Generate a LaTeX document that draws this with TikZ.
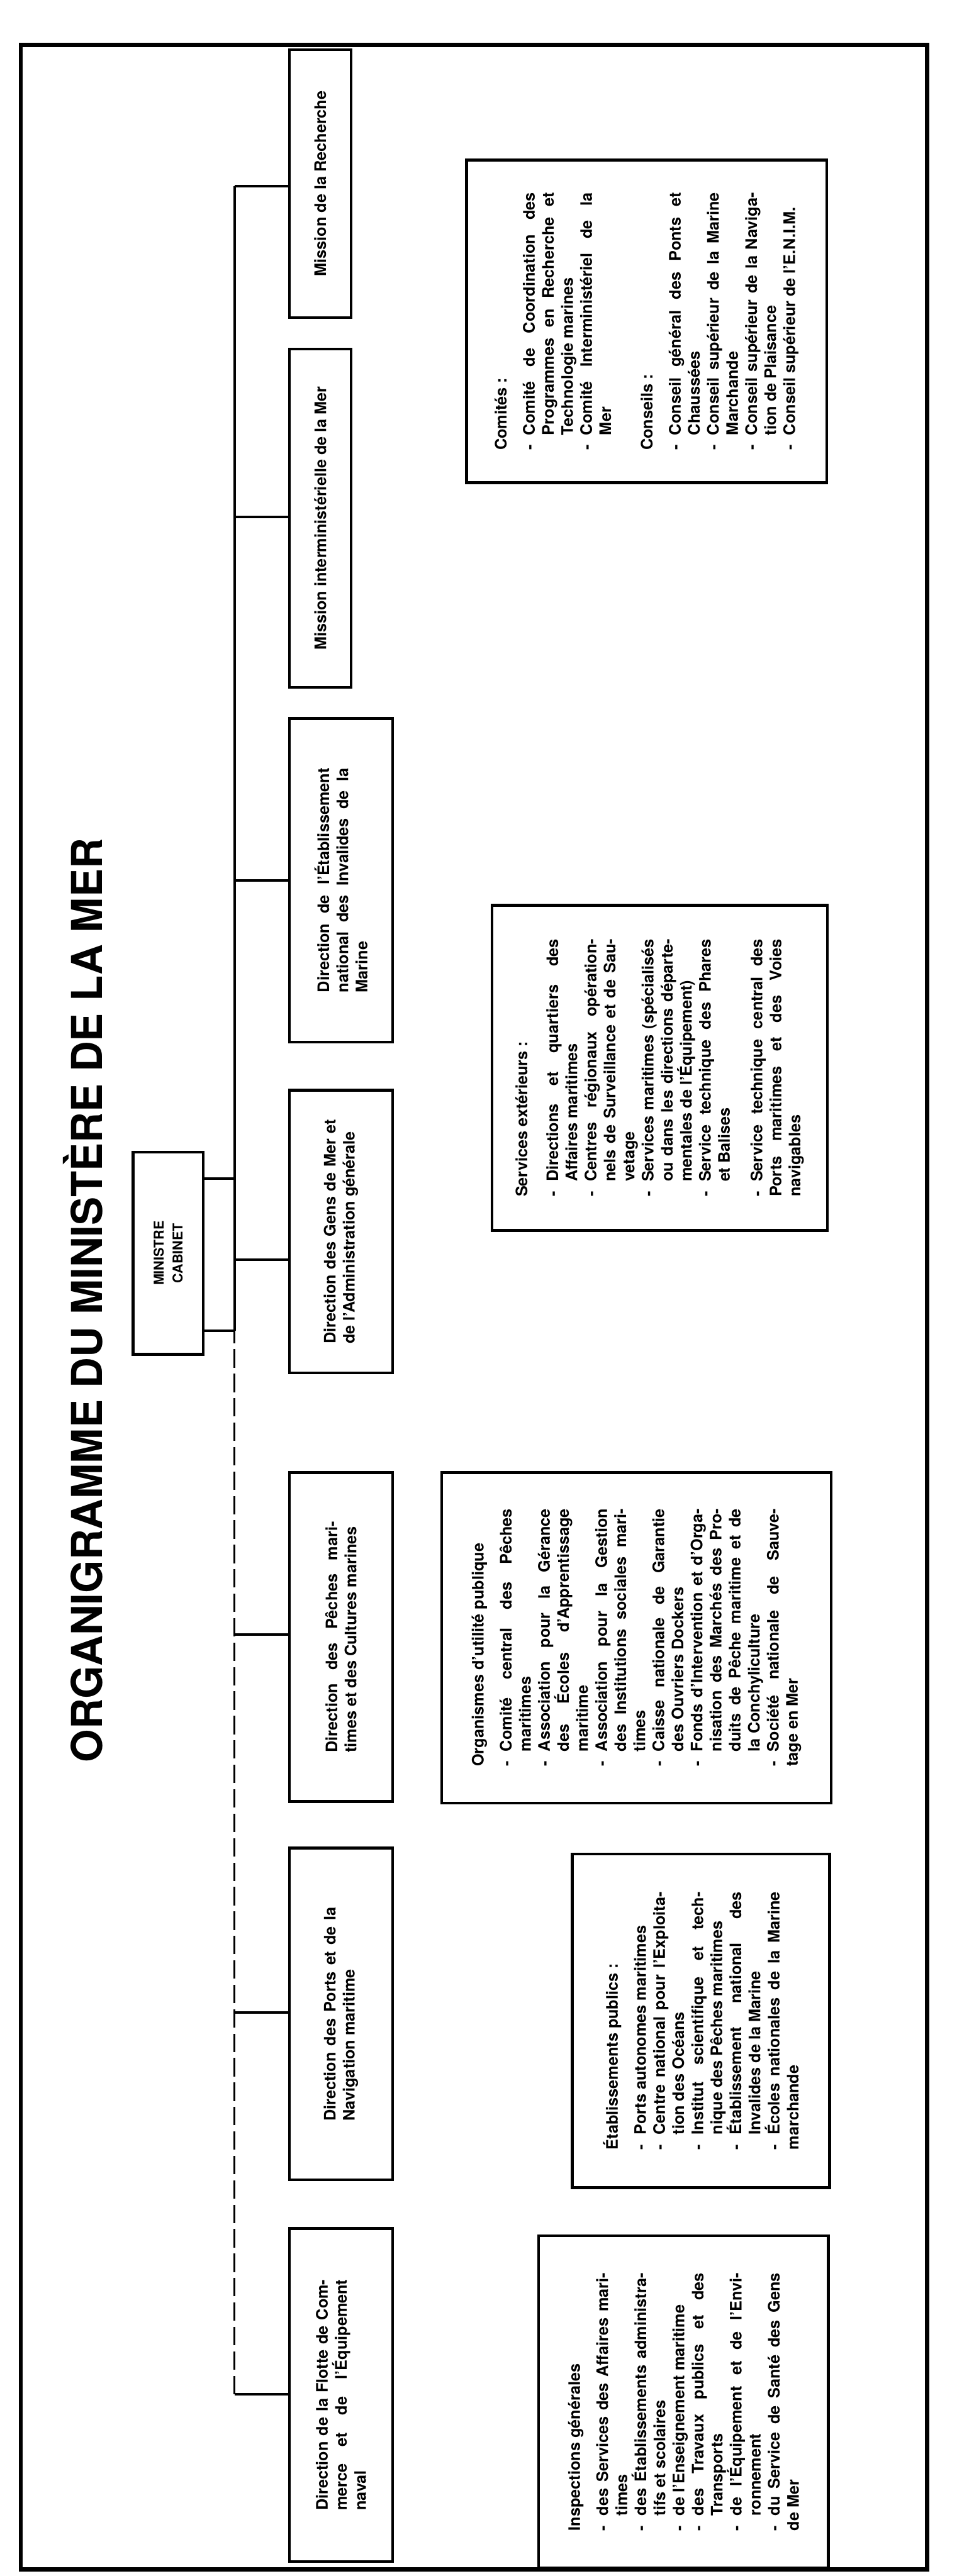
\documentclass[tikz,border=0pt]{standalone}
\usepackage{fontspec}
\setmainfont{TeX Gyre Heros}
\usepackage{tikz}
\newcommand{\boxfont}{\fontsize{13.5}{16.2}\selectfont\bfseries}
\newcommand{\titlefont}{\fontsize{40}{44}\selectfont\bfseries}
\newcommand{\cabfont}{\fontsize{11.5}{16}\selectfont\bfseries}
\newcommand{\itm}{\par\hangindent=0.45cm\hangafter=1\noindent\makebox[0.45cm][l]{-}}
\newcommand{\gap}[1]{\par\vspace{#1}}

\begin{document}
\begin{tikzpicture}[rotate=90, transform shape,
    pageframe/.style={line width=3.5pt},
    dirbox/.style={draw, line width=2.4pt, inner sep=0pt, font=\boxfont, align=justify, minimum height=3.08cm},
    misbox/.style={draw, line width=2.4pt, inner sep=0pt, font=\boxfont, align=center, minimum height=1.84cm},
    listbox/.style={draw, line width=2.4pt, inner sep=0pt, font=\boxfont, align=justify, text width=7.7cm},
    link/.style={line width=2.2pt},
    weaklink/.style={line width=1.3pt, dash pattern=on 0.55cm off 0.18cm}]
    \useasboundingbox (0,0) rectangle (76.94,29.06);
    \draw[pageframe] (0.2,1.38) rectangle (75.6,28.44);

    \node[anchor=base, font=\titlefont] (title) at (38.1,26.0) {\resizebox{27.6cm}{!}{ORGANIGRAMME DU MINISTÈRE DE LA MER}};
    \node[draw, line width=2.4pt, font=\cabfont, align=center, minimum width=6.04cm, minimum height=2.1cm] (ministre) at (39.51,24.04) {MINISTRE\\CABINET};

    \node[dirbox, minimum width=9.95cm, text width=6.9cm] (flotte) at (5.405,18.88) {Direction de la Flotte de Com-\linebreak merce et de l'Équipement\linebreak naval};
    \node[dirbox, minimum width=9.91cm, text width=6.4cm] (ports) at (16.785,18.88) {Direction des Ports et de la\linebreak Navigation maritime};
    \node[dirbox, minimum width=9.83cm, text width=6.9cm] (peches) at (28.045,18.88) {Direction des Pêches mari-\linebreak times et des Cultures marines};
    \node[dirbox, minimum width=8.45cm, text width=6.7cm] (gens) at (40.155,18.88) {Direction des Gens de Mer et\linebreak de l'Administration générale};
    \node[dirbox, minimum width=9.67cm, text width=6.7cm] (invalides) at (50.645,18.88) {Direction de l'Établissement\linebreak national des Invalides de la\linebreak Marine};
    \node[misbox, minimum width=10.10cm] (mission) at (61.46,19.50) {Mission interministérielle de la Mer};
    \node[misbox, minimum width=8.01cm] (recherche) at (71.455,19.50) {Mission de la Recherche};

    \node[listbox, minimum width=9.92cm, minimum height=8.65cm] (inspections) at (5.20,8.655) {Inspections générales\gap{0.27cm}
      \itm des Services des Affaires mari-\linebreak times
      \itm des Établissements administra-\linebreak tifs et scolaires
      \itm de l'Enseignement maritime
      \itm des Travaux publics et des\linebreak Transports
      \itm de l'Équipement et de l'Envi-\linebreak ronnement
      \itm du Service de Santé des Gens\linebreak de Mer};
    \node[listbox, minimum width=9.96cm, minimum height=7.69cm] (etablissements) at (16.58,8.135) {Établissements publics~:\gap{0.27cm}
      \itm Ports autonomes maritimes
      \itm Centre national pour l'Exploita-\linebreak tion des Océans
      \itm Institut scientifique et tech-\linebreak nique des Pêches maritimes
      \itm Établissement national des\linebreak Invalides de la Marine
      \itm Écoles nationales de la Marine\linebreak marchande};
    \node[listbox, minimum width=9.87cm, minimum height=11.62cm] (organismes) at (28.025,10.06) {Organismes d'utilité publique\gap{0.27cm}
      \itm Comité central des Pêches\linebreak maritimes
      \itm Association pour la Gérance\linebreak des Écoles d'Apprentissage\linebreak maritime
      \itm Association pour la Gestion\linebreak des Institutions sociales mari-\linebreak times
      \itm Caisse nationale de Garantie\linebreak des Ouvriers Dockers
      \itm Fonds d'Intervention et d'Orga-\linebreak nisation des Marchés des Pro-\linebreak duits de Pêche maritime et de\linebreak la Conchyliculture
      \itm Société nationale de Sauve-\linebreak tage en Mer};
    \node[listbox, minimum width=9.71cm, minimum height=10.01cm] (services) at (45.045,9.365) {Services extérieurs~:\gap{0.35cm}
      \itm Directions et quartiers des\linebreak Affaires maritimes
      \itm Centres régionaux opération-\linebreak nels de Surveillance et de Sau-\linebreak vetage
      \itm Services maritimes (spécialisés\linebreak ou dans les directions départe-\linebreak mentales de l'Équipement)
      \itm Service technique des Phares\linebreak et Balises\gap{0.4cm}
      \itm Service technique central des\linebreak Ports maritimes et des Voies\linebreak navigables};
    \node[listbox, minimum width=9.64cm, minimum height=10.75cm] (comites) at (67.34,9.755) {Comités~:\gap{0.27cm}
      \itm Comité de Coordination des\linebreak Programmes en Recherche et\linebreak Technologie marines
      \itm Comité Interministériel de la\linebreak Mer\gap{0.67cm}
      Conseils~:\gap{0.27cm}
      \itm Conseil général des Ponts et\linebreak Chaussées
      \itm Conseil supérieur de la Marine\linebreak Marchande
      \itm Conseil supérieur de la Naviga-\linebreak tion de Plaisance
      \itm Conseil supérieur de l'E.N.I.M.};

    \coordinate (b1) at (5.43,22.06);
    \coordinate (b2) at (16.83,22.06);
    \coordinate (b3) at (28.12,22.06);
    \coordinate (m2) at (37.19,22.06);
    \coordinate (b4) at (39.32,22.06);
    \coordinate (m1) at (41.73,22.06);
    \coordinate (b5) at (50.64,22.06);
    \coordinate (b6) at (61.50,22.06);
    \coordinate (b7) at (71.38,22.06);

    \draw[link] (m2) -- (b7);
    \draw[weaklink] (b1) -- (m2);
    \draw[link] (m1) -- (m1 |- ministre.south);
    \draw[link] (m2) -- (m2 |- ministre.south);
    \foreach \p/\n in {b1/flotte, b2/ports, b3/peches, b4/gens, b5/invalides, b6/mission, b7/recherche}
        \draw[link] (\p) -- (\p |- \n.north);
\end{tikzpicture}
\end{document}
